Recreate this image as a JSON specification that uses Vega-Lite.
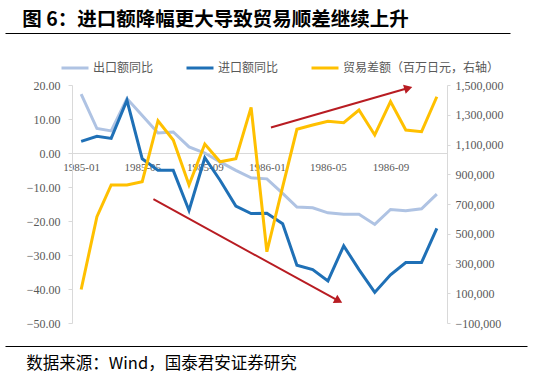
{
  "$schema": "https://vega.github.io/schema/vega-lite/v6.json",
  "autosize": {"type": "none"},
  "padding": {"left": 5, "top": 85, "right": 92, "bottom": 52},
  "width": 442,
  "height": 238,
  "background": "white",
  "config": {
    "view": {"stroke": null},
    "font": "Noto Sans CJK SC",
    "axis": {"grid": false, "domainColor": "#d9d9d9", "tickColor": "#d9d9d9", "labelColor": "#595959", "labelFont": "Liberation Serif", "labelFontSize": 12, "labelOverlap": false}
  },
  "layer": [
    {
      "data": {"values": [
        {"month": "1985-01-01", "出口额同比": 17.3, "进口额同比": 3.4, "贸易差额": 125000},
        {"month": "1985-02-01", "出口额同比": 7.2, "进口额同比": 4.9, "贸易差额": 615000},
        {"month": "1985-03-01", "出口额同比": 6.5, "进口额同比": 4.3, "贸易差额": 828000},
        {"month": "1985-04-01", "出口额同比": 16.0, "进口额同比": 15.5, "贸易差额": 828000},
        {"month": "1985-05-01", "出口额同比": 11.0, "进口额同比": -1.7, "贸易差额": 850000},
        {"month": "1985-06-01", "出口额同比": 5.9, "进口额同比": -5.1, "贸易差额": 1260000},
        {"month": "1985-07-01", "出口额同比": 6.2, "进口额同比": -5.1, "贸易差额": 1130000},
        {"month": "1985-08-01", "出口额同比": 1.8, "进口额同比": -16.9, "贸易差额": 828000},
        {"month": "1985-09-01", "出口额同比": 0.0, "进口额同比": -1.4, "贸易差额": 1103000},
        {"month": "1985-10-01", "出口额同比": -2.6, "进口额同比": -8.0, "贸易差额": 984000},
        {"month": "1985-11-01", "出口额同比": -5.1, "进口额同比": -15.6, "贸易差额": 1004000},
        {"month": "1985-12-01", "出口额同比": -7.3, "进口额同比": -17.8, "贸易差额": 1350000},
        {"month": "1986-01-01", "出口额同比": -7.6, "进口额同比": -17.7, "贸易差额": 379000},
        {"month": "1986-02-01", "出口额同比": -11.9, "进口额同比": -20.8, "贸易差额": 815000},
        {"month": "1986-03-01", "出口额同比": -15.9, "进口额同比": -33.0, "贸易差额": 1202000},
        {"month": "1986-04-01", "出口额同比": -16.1, "进口额同比": -34.3, "贸易差额": 1231000},
        {"month": "1986-05-01", "出口额同比": -17.6, "进口额同比": -37.6, "贸易差额": 1256000},
        {"month": "1986-06-01", "出口额同比": -18.0, "进口额同比": -27.3, "贸易差额": 1247000},
        {"month": "1986-07-01", "出口额同比": -18.0, "进口额同比": -34.3, "贸易差额": 1332000},
        {"month": "1986-08-01", "出口额同比": -21.0, "进口额同比": -41.0, "贸易差额": 1164000},
        {"month": "1986-09-01", "出口额同比": -16.6, "进口额同比": -35.8, "贸易差额": 1388000},
        {"month": "1986-10-01", "出口额同比": -17.0, "进口额同比": -32.2, "贸易差额": 1197000},
        {"month": "1986-11-01", "出口额同比": -16.4, "进口额同比": -32.2, "贸易差额": 1186000},
        {"month": "1986-12-01", "出口额同比": -12.1, "进口额同比": -22.2, "贸易差额": 1421000}
      ]},
      "encoding": {
        "x": {
          "field": "month", "type": "temporal",
          "scale": {"type": "utc", "range": [67, 442], "domain": [{"year": 1984, "month": 12, "date": 14, "utc": true}, {"year": 1986, "month": 12, "date": 21, "utc": true}]},
          "axis": {
            "title": null, "orient": "bottom",
            "values": [
              {"year": 1985, "month": 1, "date": 1, "utc": true},
              {"year": 1985, "month": 5, "date": 1, "utc": true},
              {"year": 1985, "month": 9, "date": 1, "utc": true},
              {"year": 1986, "month": 1, "date": 1, "utc": true},
              {"year": 1986, "month": 5, "date": 1, "utc": true},
              {"year": 1986, "month": 9, "date": 1, "utc": true}
            ],
            "labelExpr": "utcFormat(datum.value, '%Y-%m')", "offset": -170, "tickSize": 0, "labelPadding": 8,
            "labelFontSize": 11, "labelFlush": false, "labelOverlap": false, "domainColor": "#d9d9d9"
          }
        }
      },
      "layer": [
        {
          "encoding": {
            "y": {
              "field": "value", "type": "quantitative",
              "scale": {"domain": [-50, 20], "nice": false, "zero": false},
              "axis": {"title": null, "orient": "left", "offset": -67, "values": [-50, -40, -30, -20, -10, 0, 10, 20], "labelExpr": "format(datum.value, '.2f')", "labelOverlap": false, "tickSize": 4, "labelPadding": 8}
            }
          },
          "layer": [
            {
              "transform": [{"fold": ["出口额同比", "进口额同比"], "as": ["series", "value"]}],
              "mark": {"type": "line", "strokeWidth": 3},
              "encoding": {
                "color": {
                  "field": "series", "type": "nominal",
                  "scale": {"domain": ["出口额同比", "进口额同比", "贸易差额（百万日元，右轴）"], "range": ["#AFC3E3", "#1F70B6", "#FFC000"]},
                  "legend": {
                    "orient": "none", "legendX": 55, "legendY": -32, "offset": 0, "direction": "horizontal", "title": null,
                    "symbolType": "stroke", "symbolSize": 729, "symbolStrokeWidth": 3, "labelFontSize": 12,
                    "labelColor": "#595959", "labelFont": "Noto Sans CJK SC", "columnPadding": 26, "labelOffset": 3, "padding": 0
                  }
                }
              }
            },
            {
              "data": {"values": [
                {"month": "1985-05-23", "value": -13.6, "month2": "1986-05-22", "value2": -43.5},
                {"month": "1986-01-09", "value": 7.5, "month2": "1986-10-06", "value2": 19.1}
              ]},
              "mark": {"type": "rule", "color": "#B81C22", "strokeWidth": 2},
              "encoding": {
                "x2": {"field": "month2"},
                "y2": {"field": "value2"}
              }
            },
            {
              "data": {"values": [{"month": "1986-05-22", "value": -43.5}]},
              "mark": {"type": "point", "shape": "triangle-right", "filled": true, "size": 90, "angle": 28.7, "color": "#B81C22", "opacity": 1}
            },
            {
              "data": {"values": [{"month": "1986-10-06", "value": 19.1}]},
              "mark": {"type": "point", "shape": "triangle-right", "filled": true, "size": 90, "angle": 344, "color": "#B81C22", "opacity": 1}
            }
          ]
        },
        {
          "mark": {"type": "line", "strokeWidth": 3},
          "encoding": {
            "y": {
              "field": "贸易差额", "type": "quantitative",
              "scale": {"domain": [-100000, 1500000], "nice": false, "zero": false},
              "axis": {"title": null, "orient": "right", "values": [-100000, 100000, 300000, 500000, 700000, 900000, 1100000, 1300000, 1500000], "labelExpr": "format(datum.value, ',')", "labelOverlap": false, "tickSize": 3, "labelPadding": 5}
            },
            "color": {"datum": "贸易差额（百万日元，右轴）"}
          }
        }
      ],
      "resolve": {"scale": {"y": "independent"}}
    },
    {
      "data": {"values": [{"v": 0}, {"v": 1}]},
      "mark": {"type": "point", "opacity": 0},
      "encoding": {
        "x": {
          "field": "v", "type": "quantitative",
          "scale": {"domain": [0, 1], "range": [0, 505]},
          "axis": {"orient": "top", "offset": 52, "domainColor": "#000000", "domainWidth": 1, "ticks": false, "labels": false, "grid": false, "title": null}
        }
      }
    },
    {
      "data": {"values": [{"v": 0}, {"v": 1}]},
      "mark": {"type": "point", "opacity": 0},
      "encoding": {
        "x": {
          "field": "v", "type": "quantitative",
          "scale": {"domain": [0, 1], "range": [0, 522]},
          "axis": {"orient": "bottom", "offset": 23, "domainColor": "#000000", "domainWidth": 1, "ticks": false, "labels": false, "grid": false, "title": null}
        }
      }
    },
    {
      "data": {"values": [{"v": 0}, {"v": 1}]},
      "mark": {"type": "point", "opacity": 0},
      "encoding": {
        "x": {
          "field": "v", "type": "quantitative",
          "scale": {"domain": [0, 1], "range": [0, 420]},
          "axis": {
            "orient": "top", "offset": 52, "domain": false, "ticks": false, "labels": false, "grid": false,
            "title": "图 6：进口额降幅更大导致贸易顺差继续上升",
            "titleAnchor": "middle", "titleAlign": "center", "titleY": -8, "titleBaseline": "alphabetic", "titleAngle": 0,
            "titleFont": "Noto Sans CJK SC", "titleFontSize": 19.5, "titleFontWeight": "bold", "titleColor": "#000000", "titleLimit": 600
          }
        }
      }
    },
    {
      "data": {"values": [{"v": 0}, {"v": 1}]},
      "mark": {"type": "point", "opacity": 0},
      "encoding": {
        "x": {
          "field": "v", "type": "quantitative",
          "scale": {"domain": [0, 1], "range": [0, 312]},
          "axis": {
            "orient": "bottom", "offset": 23, "domain": false, "ticks": false, "labels": false, "grid": false,
            "title": "数据来源：Wind，国泰君安证券研究",
            "titleAnchor": "middle", "titleAlign": "center", "titleY": 22, "titleBaseline": "alphabetic", "titleAngle": 0,
            "titleFont": "Noto Sans CJK SC", "titleFontSize": 16.5, "titleFontWeight": "normal", "titleColor": "#000000", "titleLimit": 600
          }
        }
      }
    }
  ],
  "resolve": {"scale": {"x": "independent"}}
}
